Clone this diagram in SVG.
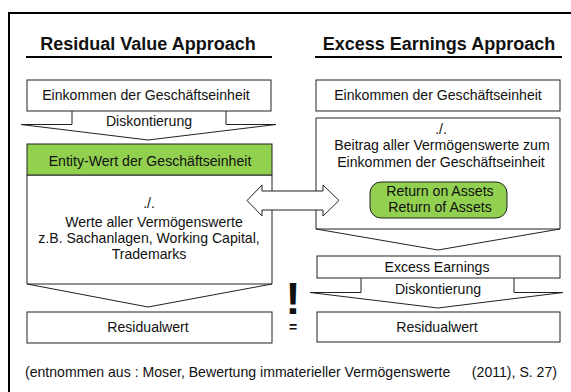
<svg xmlns="http://www.w3.org/2000/svg" width="571" height="392" viewBox="0 0 571 392">
  <style>
    text { font-family: "Liberation Sans", Arial, sans-serif; fill: #111; }
    .t { font-size: 14.1px; text-anchor: middle; }
    .h { font-size: 18px; font-weight: bold; text-anchor: middle; }
    .box { fill: #fff; stroke: #222; stroke-width: 1; }
    .green { fill: #92d050; stroke: #222; stroke-width: 1; }
    .ln { fill: none; stroke: #222; stroke-width: 1; }
    .rule { stroke: #000; stroke-width: 2.2; }
  </style>
  <rect width="571" height="392" fill="#fff"/>

  <!-- outer frame -->
  <path d="M9,400 V13 H580" fill="none" stroke="#000" stroke-width="2"/>

  <!-- column headings -->
  <g id="heading-residual">
    <text class="h" x="148" y="50">Residual Value Approach</text>
    <line class="rule" x1="26" y1="57" x2="272" y2="57"/>
  </g>
  <g id="heading-excess">
    <text class="h" x="439" y="50">Excess Earnings Approach</text>
    <line class="rule" x1="315" y1="57" x2="562" y2="57"/>
  </g>

  <!-- left column -->
  <g id="l-income">
    <rect class="box" x="27" y="80" width="244" height="31"/>
    <text class="t" x="146" y="100">Einkommen der Geschäftseinheit</text>
  </g>
  <g id="l-discount">
    <path class="ln" d="M72,111 V124.5 H21 L148,140 L276,124.5 H226 V111"/>
    <text class="t" x="149" y="126">Diskontierung</text>
  </g>
  <g id="l-entity">
    <path class="box" d="M27,175 V284 L148,307 L272,284 V175 Z"/>
    <line class="ln" x1="27" y1="284" x2="272" y2="284"/>
    <rect class="green" x="27" y="144" width="245" height="31"/>
    <text class="t" x="150" y="166">Entity-Wert der Geschäftseinheit</text>
    <text class="t" x="149" y="208">./.</text>
    <text class="t" x="154" y="227">Werte aller Vermögenswerte</text>
    <text class="t" x="149" y="243">z.B. Sachanlagen, Working Capital,</text>
    <text class="t" x="149" y="259">Trademarks</text>
  </g>
  <g id="l-residual">
    <rect class="box" x="27" y="312" width="245" height="31"/>
    <text class="t" x="148" y="332">Residualwert</text>
  </g>

  <!-- right column -->
  <g id="r-income">
    <rect class="box" x="316" y="80" width="244" height="31"/>
    <text class="t" x="438" y="100">Einkommen der Geschäftseinheit</text>
  </g>
  <g id="r-contribution">
    <path class="box" d="M316,118 V229 L438,250 L560,229 V118 Z"/>
    <line class="ln" x1="316" y1="229" x2="560" y2="229"/>
    <text class="t" x="441" y="134">./.</text>
    <text class="t" x="442" y="150">Beitrag aller Vermögenswerte zum</text>
    <text class="t" x="441" y="167">Einkommen der Geschäftseinheit</text>
  </g>
  <g id="r-returns">
    <rect class="green" x="370" y="182" width="137" height="36" rx="11" ry="11"/>
    <text class="t" x="440" y="196">Return on Assets</text>
    <text class="t" x="440" y="212">Return of Assets</text>
  </g>
  <g id="r-excess">
    <rect class="box" x="317" y="256" width="243" height="22"/>
    <text class="t" x="437" y="272">Excess Earnings</text>
  </g>
  <g id="r-discount">
    <path class="ln" d="M361,278 V292.5 H310 L438,308 L563,292.5 H514 V278"/>
    <text class="t" x="438" y="294">Diskontierung</text>
  </g>
  <g id="r-residual">
    <rect class="box" x="317" y="312" width="243" height="30"/>
    <text class="t" x="437" y="332">Residualwert</text>
  </g>

  <!-- links between the columns -->
  <g id="connectors">
    <path d="M247,200.5 L262,185 V191 H323 V185 L339,200.5 L323,216 V210 H262 V216 Z" fill="#fff" stroke="#222" stroke-width="1"/>
  </g>

  <g id="equality">
    <text x="293" y="314" font-size="45" font-weight="bold" text-anchor="middle">!</text>
    <text x="293" y="332" font-size="14" font-weight="bold" text-anchor="middle">=</text>
  </g>

  <!-- source -->
  <g id="source">
    <text x="25" y="377" font-size="14.1">(entnommen aus : Moser, Bewertung immaterieller Vermögenswerte</text>
    <text x="557" y="377" font-size="14.1" text-anchor="end">(2011), S. 27)</text>
  </g>
</svg>
